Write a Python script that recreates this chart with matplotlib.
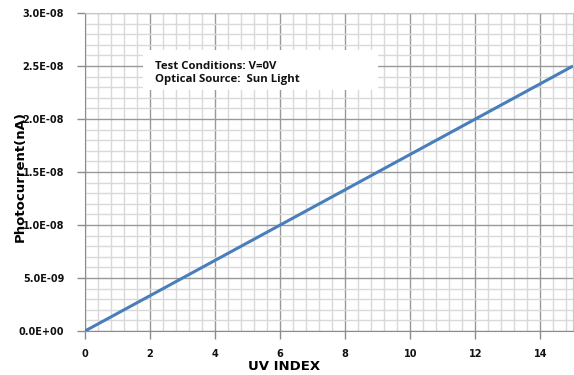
import numpy as np
import matplotlib.pyplot as plt
from matplotlib.patches import Rectangle
from matplotlib.ticker import MultipleLocator, FuncFormatter

plt.rcParams["font.weight"] = "bold"
plt.rcParams["axes.labelweight"] = "bold"

uv_index = [0, 3, 6, 9, 12, 15]
photocurrent = [0.0, 5.0e-9, 1.0e-8, 1.5e-8, 2.0e-8, 2.5e-8]
note_lines = ["Test Conditions: V=0V", "Optical Source:  Sun Light"]

W, H = 574, 375
L, R, T, B = 85, 573, 13, 331

fig = plt.figure(figsize=(W / 100, H / 100), dpi=100)
ax = fig.add_axes([L / W, 1 - B / H, (R - L) / W, (B - T) / H])

ax.plot(uv_index, photocurrent, color="#4A7EBB", lw=2.2, zorder=3,
        solid_capstyle="butt")

ax.set_xlim(0, 15)
ax.set_ylim(0, 3.0e-8)
ax.xaxis.set_major_locator(MultipleLocator(2))
ax.xaxis.set_minor_locator(MultipleLocator(0.4))
ax.yaxis.set_major_locator(MultipleLocator(5e-9))
ax.yaxis.set_minor_locator(MultipleLocator(1e-9))
ax.yaxis.set_major_formatter(FuncFormatter(lambda v, _: f"{v:.1E}"))

ax.grid(which="major", color="#999999", lw=1.0, zorder=1)
ax.grid(which="minor", color="#D9D9D9", lw=1.0, zorder=0)
ax.set_axisbelow(True)

for side in ["left", "bottom"]:
    ax.spines[side].set_color("#8C8C8C")
for side in ["top", "right"]:
    ax.spines[side].set_color("#C8C8C8")

ax.tick_params(which="major", length=6, color="#8C8C8C", width=1,
               labelsize=7, labelcolor="#111111")
ax.tick_params(axis="y", pad=9)
ax.tick_params(axis="x", pad=7)
ax.tick_params(which="minor", length=0)

ax.set_xlabel("UV INDEX", fontsize=9.5)
ax.set_ylabel("Photocurrent(nA)", fontsize=9.5)
ax.xaxis.set_label_coords((284 - L) / (R - L), -(367 - B) / (B - T))
ax.yaxis.set_label_coords(-(L - 20) / (R - L), (B - 176) / (B - T))
ax.xaxis.label.set_va("center")
ax.yaxis.label.set_va("center")

# white note box covering the grid
bx0, bx1, by0, by1 = 143, 378, 50, 90
ax.add_patch(Rectangle(((bx0 - L) / (R - L), (B - by1) / (B - T)),
                       (bx1 - bx0) / (R - L), (by1 - by0) / (B - T),
                       transform=ax.transAxes, facecolor="white",
                       edgecolor="none", zorder=4))
ax.text((155 - L) / (R - L), (B - 82) / (B - T), "\n".join(note_lines),
        transform=ax.transAxes, fontsize=8.2, family="Open Sans",
        fontweight="bold", linespacing=1.3, va="baseline", ha="left",
        zorder=5, color="#111111")

fig.savefig("out.png", dpi=100)
